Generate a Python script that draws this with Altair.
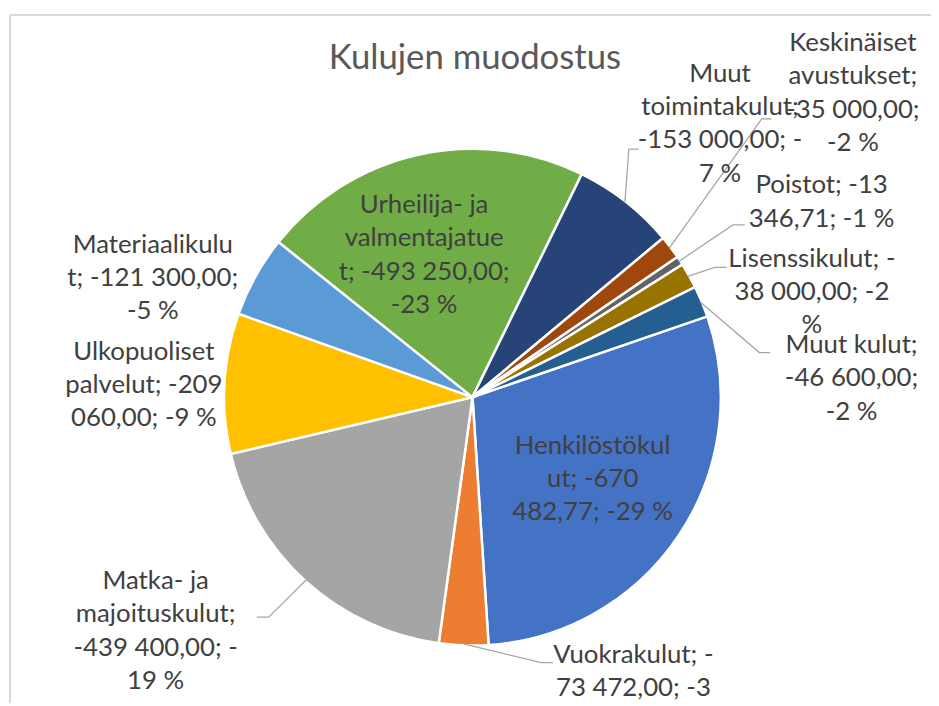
import math
import altair as alt
import pandas as pd

# ---------------- data ----------------
CATEGORIES = [
    "Henkilöstökulut", "Vuokrakulut", "Matka- ja majoituskulut",
    "Ulkopuoliset palvelut", "Materiaalikulut", "Urheilija- ja valmentajatuet",
    "Muut toimintakulut", "Keskinäiset avustukset", "Poistot",
    "Lisenssikulut", "Muut kulut",
]
VALUES = [-670482.77, -73472.00, -439400.00, -209060.00, -121300.00,
          -493250.00, -153000.00, -35000.00, -13346.71, -38000.00, -46600.00]
LABELS = [
    "Henkilöstökul\nut; -670\n482,77; -29 %",
    "Vuokrakulut; -\n73 472,00; -3\n%",
    "Matka- ja\nmajoituskulut;\n-439 400,00; -\n19 %",
    "Ulkopuoliset\npalvelut; -209\n060,00; -9 %",
    "Materiaalikulu\nt; -121 300,00;\n-5 %",
    "Urheilija- ja\nvalmentajatue\nt; -493 250,00;\n-23 %",
    "Muut\ntoimintakulut;\n-153 000,00; -\n7 %",
    "Keskinäiset\navustukset;\n-35 000,00;\n-2 %",
    "Poistot; -13\n346,71; -1 %",
    "Lisenssikulut; -\n38 000,00; -2\n%",
    "Muut kulut;\n-46 600,00;\n-2 %",
]
COLORS = ["#4472C4", "#ED7D31", "#A5A5A5", "#FFC000", "#5B9BD5", "#70AD47",
          "#264478", "#9E480E", "#636363", "#997300", "#255E91"]
TITLE = "Kulujen muodostus"

# ---------------- layout (styles) ----------------
W, H = 931, 698
CX, CY = 468.5, 389.5
R = 250.5
START = math.radians(71)
FONT = "Lato"
LABEL_SIZE = 26
LINE_H = 33.5
TEXT_COLOR = "#404040"

# label placement (centre of the text block): radius, dx, dy
LABEL_POS = {
    "Henkilöstökulut": (142, 3, 4),
    "Vuokrakulut": (300, 173, -6),
    "Matka- ja majoituskulut": (350, -84, -23),
    "Ulkopuoliset palvelut": (330, -2, 6),
    "Materiaalikulut": (360, -8, 55),
    "Urheilija- ja valmentajatuet": (150, -16, 3),
    "Muut toimintakulut": (330, 46, -16),
    "Keskinäiset avustukset": (470, 9, -23),
    "Poistot": (400, 18, 23),
    "Lisenssikulut": (380, 11, 80),
    "Muut kulut": (410, 4, 139),
}
# leader line elbow / end, as offsets from the label centre
LEADERS = {
    "Muut toimintakulut": [(-92, 25.5), (-82, 25.5)],
    "Keskinäiset avustukset": [(-92, 26), (-82, 26)],
    "Poistot": [(-89.5, 23), (-77.5, 23)],
    "Lisenssikulut": [(-98, -25), (-86, -25)],
    "Muut kulut": [(-93, -26), (-82, -26)],
    "Vuokrakulut": [(-93, -26), (-81, -26)],
    "Matka- ja majoituskulut": [(114, -14), (102, -14)],
}

# ---------------- derived table ----------------
df = pd.DataFrame({
    "cat": CATEGORIES,
    "value": VALUES,
    "label": LABELS,
    "order": list(range(len(CATEGORIES))),
})
df["mag"] = df["value"].abs()
total = df["mag"].sum()
df["mid"] = df["mag"].cumsum() - df["mag"] / 2
df["ang"] = START + 2 * math.pi * df["mid"] / total

theta_scale = alt.Scale(domain=[0, total], range=[START, START + 2 * math.pi])

arcs = alt.Chart(df).mark_arc(
    outerRadius=R, stroke="white", strokeWidth=2.5
).encode(
    theta=alt.Theta("mag:Q", stack=True, scale=theta_scale),
    order=alt.Order("order:Q", sort="ascending"),
    color=alt.Color("cat:N", scale=alt.Scale(domain=CATEGORIES, range=COLORS), legend=None),
    x=alt.value(CX),
    y=alt.value(CY),
)

text_layers = []
for cat, lab in zip(CATEGORIES, LABELS):
    r, dx, dy = LABEL_POS[cat]
    n_lines = lab.count("\n") + 1
    text_layers.append(
        alt.Chart(df).transform_filter(alt.datum.cat == cat).mark_text(
            radius=r, dx=dx, dy=dy - (n_lines - 1) * LINE_H / 2,
            font=FONT, fontSize=LABEL_SIZE,
            lineHeight=LINE_H, lineBreak="\n", align="center", baseline="middle",
            color=TEXT_COLOR,
        ).encode(
            theta=alt.Theta("mid:Q", stack=None, scale=theta_scale),
            text="label:N",
            x=alt.value(CX),
            y=alt.value(CY),
        )
    )

# leader lines
rows = []
for _, row in df.iterrows():
    if row["cat"] not in LEADERS:
        continue
    a = row["ang"]
    r, dx, dy = LABEL_POS[row["cat"]]
    lx = CX + r * math.sin(a) + dx
    ly = CY - r * math.cos(a) + dy
    pts = [(CX + (R - 1.5) * math.sin(a), CY - (R - 1.5) * math.cos(a))]
    pts += [(lx + ox, ly + oy) for ox, oy in LEADERS[row["cat"]]]
    for i, (px, py) in enumerate(pts):
        rows.append({"cat": row["cat"], "i": i, "px": px, "py": py})
lead = pd.DataFrame(rows)

leaders = alt.Chart(lead).mark_line(color="#A6A6A6", strokeWidth=1.3).encode(
    x=alt.X("px:Q", scale=None),
    y=alt.Y("py:Q", scale=None),
    detail="cat:N",
    order="i:Q",
)

one = pd.DataFrame({"t": [TITLE]})
title = alt.Chart(one).mark_text(
    font=FONT, fontSize=35, color="#595959", align="center", baseline="middle"
).encode(text="t:N", x=alt.value(471), y=alt.value(47))

border_left = alt.Chart(one).mark_rule(color="#D9D9D9", strokeWidth=2).encode(
    x=alt.value(2), y=alt.value(4), y2=alt.value(H))
border_top = alt.Chart(one).mark_rule(color="#D9D9D9", strokeWidth=2).encode(
    x=alt.value(2), x2=alt.value(W), y=alt.value(4))

chart = alt.layer(
    border_left, border_top, arcs, leaders, title, *text_layers
).properties(
    width=W, height=H, padding=0,
    autosize=alt.AutoSizeParams(type="none"),
    background="white",
).configure_view(stroke=None)

chart.save("out.html", embed_options={"renderer": "svg", "actions": False})
